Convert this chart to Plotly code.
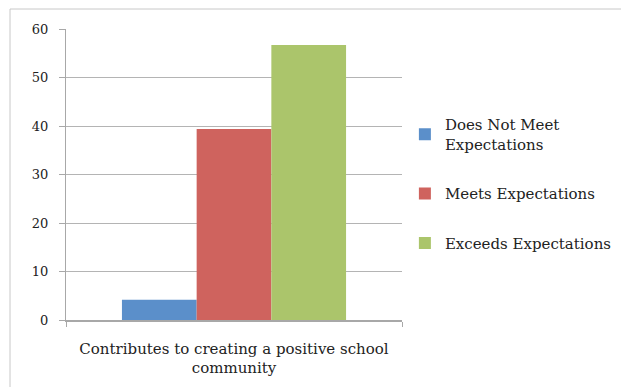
import plotly.graph_objects as go

categories = ["Contributes to creating a positive school<br>community"]
series_names = ["Does Not Meet<br>Expectations", "Meets Expectations", "Exceeds Expectations"]
series_values = [[4.2], [39.4], [56.7]]
series_colors = ["#5b8fca", "#cf635e", "#abc56b"]
y_ticks = [0, 10, 20, 30, 40, 50, 60]

fig = go.Figure()
for i, (name, vals, col) in enumerate(zip(series_names, series_values, series_colors)):
    fig.add_trace(go.Bar(
        x=categories, y=vals, name=name,
        marker=dict(color=col, line=dict(width=0)),
        legendgroup=str(i),
    ))

font_family = "DejaVu Serif, Liberation Serif, serif"
fig.update_layout(
    width=621, height=387,
    margin=dict(l=66, r=219, t=29, b=67, autoexpand=False),
    paper_bgcolor="white", plot_bgcolor="white",
    barmode="group", bargap=0.333, bargroupgap=0,
    font=dict(family=font_family, size=14, color="#222222"),
    showlegend=True,
    legend=dict(
        xref="container", yref="container",
        x=0.652, y=0.72, xanchor="left", yanchor="top",
        font=dict(family=font_family, size=15, color="#222222"),
        traceorder="grouped", tracegroupgap=27,
        itemwidth=30,
        bgcolor="rgba(0,0,0,0)",
    ),
    shapes=[dict(
        type="rect", xref="paper", yref="paper",
        x0=-56/336, x1=2.0, y0=-0.3, y1=1 + 20/291,
        line=dict(color="#c8c8c8", width=1), fillcolor="rgba(0,0,0,0)",
        layer="below",
    )],
)
fig.update_yaxes(
    range=[0, 60], tickvals=y_ticks, showgrid=True, gridcolor="#b4b4b4", gridwidth=1,
    showline=True, linecolor="#a8a8a8", linewidth=1,
    ticks="outside", ticklen=6, tickcolor="#a8a8a8",
    ticklabelstandoff=8, automargin=False,
    tickfont=dict(family=font_family, size=13, color="#222222"),
    zeroline=False,
)
fig.update_xaxes(
    showline=True, linecolor="#a8a8a8", linewidth=1.5,
    ticks="outside", tickson="boundaries", ticklen=5, tickcolor="#a8a8a8",
    ticklabelstandoff=14, tickangle=0, automargin=False,
    tickfont=dict(family=font_family, size=15, color="#222222"),
)
fig.write_html("out.html")
